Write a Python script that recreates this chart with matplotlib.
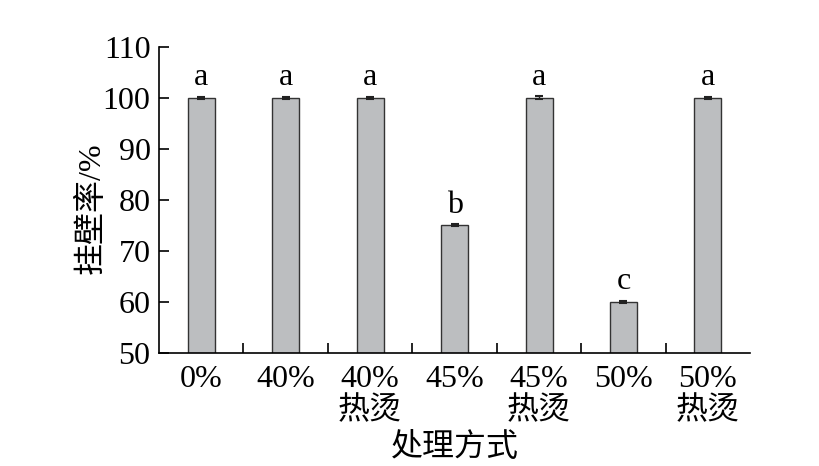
import matplotlib
matplotlib.use("Agg")
import matplotlib.pyplot as plt
import numpy as np

categories = ["0%", "40%", "40%\n热烫", "45%", "45%\n热烫", "50%", "50%\n热烫"]
values = [100.0, 100.0, 100.0, 75.0, 100.0, 60.0, 100.0]
errors = [0.2, 0.2, 0.2, 0.2, 0.3, 0.2, 0.2]
letters = ["a", "a", "a", "b", "a", "c", "a"]
yticks = [50, 60, 70, 80, 90, 100, 110]

plt.rcParams['font.family'] = ['Liberation Serif', 'Noto Sans CJK SC']

FS = 23

fig = plt.figure(figsize=(8.19, 4.66), dpi=100)
ax = fig.add_axes([0.194, 0.2425, 0.722, 0.657])

x = np.arange(len(categories))
ax.bar(x, values, width=0.32, color="#BCBEC0", edgecolor="#333333", linewidth=1.0,
       yerr=errors, capsize=3, error_kw=dict(elinewidth=1.0, capthick=1.5, ecolor="#222222"), zorder=2)

for xi, v, e, lab in zip(x, values, errors, letters):
    ax.text(xi, v + e + 0.9, lab, ha="center", va="bottom", fontsize=FS)

ax.set_xlim(-0.5, len(categories) - 0.5)
ax.set_ylim(50, 110)
ax.set_yticks(yticks)
ax.set_yticklabels([str(t) for t in yticks], fontsize=FS)

ax.set_xticks(x)
ax.set_xticklabels(categories, fontsize=FS, linespacing=1.1, va="top")
ax.tick_params(axis="x", which="major", length=0, pad=9)
ax.set_xticks(np.arange(0.5, len(categories) - 0.5, 1.0), minor=True)
ax.tick_params(axis="x", which="minor", direction="in", length=7, width=1.2)
ax.tick_params(axis="y", direction="in", length=7, width=1.2, pad=6)

for s in ["top", "right"]:
    ax.spines[s].set_visible(False)
for s in ["left", "bottom"]:
    ax.spines[s].set_linewidth(1.2)

ax.set_ylabel("挂壁率/%", fontsize=FS)
ax.yaxis.set_label_coords(-0.088, 0.474)
ax.set_xlabel("处理方式", fontsize=FS, labelpad=5)

fig.savefig("out.png", dpi=100)
